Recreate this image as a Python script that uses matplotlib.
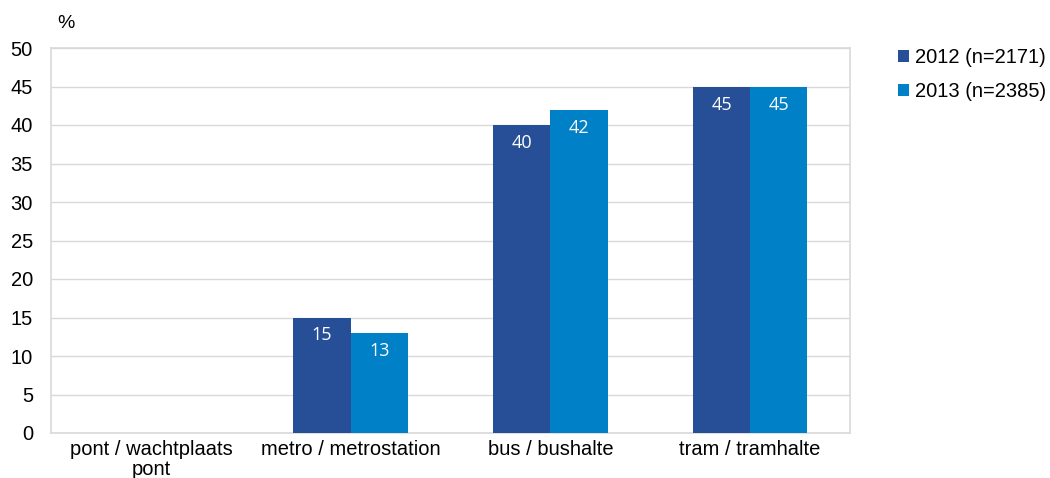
import matplotlib
matplotlib.use("Agg")
import matplotlib.pyplot as plt
import numpy as np

categories = ["pont / wachtplaats\npont", "metro / metrostation", "bus / bushalte", "tram / tramhalte"]
values_2012 = [0, 15, 40, 45]
values_2013 = [0, 13, 42, 45]
series_labels = ["2012 (n=2171)", "2013 (n=2385)"]
y_ticks = [0, 5, 10, 15, 20, 25, 30, 35, 40, 45, 50]

color_2012 = "#264F98"
color_2013 = "#0080C6"
grid_color = "#D9D9D9"

plt.rcParams["font.family"] = ["Liberation Sans", "DejaVu Sans"]

fig = plt.figure(figsize=(10.5, 4.78), dpi=100)
ax = fig.add_axes([51 / 1050, 1 - 433 / 478, (850 - 51) / 1050, (433 - 48) / 478])

x = np.arange(len(categories))
w = 0.287
bars1 = ax.bar(x - w / 2, values_2012, w, color=color_2012, label=series_labels[0], zorder=3)
bars2 = ax.bar(x + w / 2, values_2013, w, color=color_2013, label=series_labels[1], zorder=3)

for bars, vals in ((bars1, values_2012), (bars2, values_2013)):
    for b, v in zip(bars, vals):
        if v > 0:
            ax.annotate(f"{v}", (b.get_x() + b.get_width() / 2, v), xytext=(0, -18),
                        textcoords="offset pixels",
                        ha="center", va="center", color="white", fontsize=13,
                        family=["Open Sans", "DejaVu Sans"], zorder=4)

ax.set_xlim(-0.5, len(categories) - 0.5)
ax.set_ylim(0, 50)
ax.set_yticks(y_ticks)
ax.set_yticklabels([str(t) for t in y_ticks], fontsize=14.5)
ax.set_xticks(x)
ax.set_xticklabels(categories, fontsize=14.5, linespacing=1.05)
ax.tick_params(axis="both", length=0)
ax.tick_params(axis="y", pad=13)
ax.tick_params(axis="x", pad=5)
ax.grid(axis="y", color=grid_color, linewidth=1, zorder=0)
for side in ("left", "right", "bottom", "top"):
    ax.spines[side].set_color(grid_color)
    ax.spines[side].set_linewidth(1.2)

fig.text(66 / 1050, 1 - 23 / 478, "%", fontsize=14, ha="center", va="center")

fig.legend(handles=[bars1, bars2], labels=series_labels, loc="upper left",
           bbox_to_anchor=(898 / 1050, 1 - 48 / 478), frameon=False, fontsize=14.5,
           handlelength=0.55, handleheight=0.55, handletextpad=0.3, labelspacing=0.75,
           borderaxespad=0, borderpad=0)

fig.savefig("out.png", dpi=100)
